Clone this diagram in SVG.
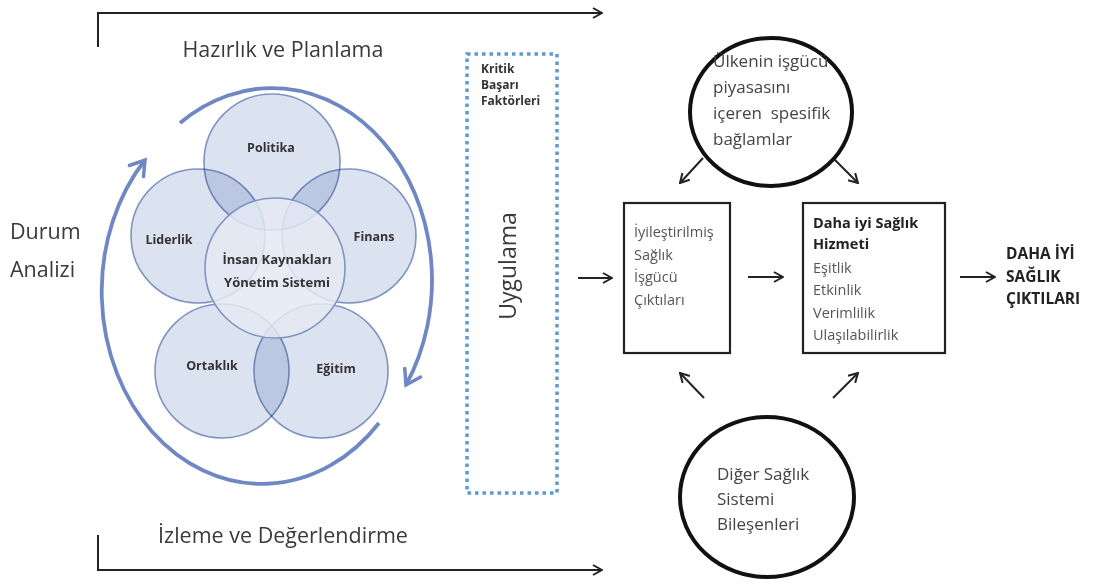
<svg xmlns="http://www.w3.org/2000/svg" width="1098" height="586" viewBox="0 0 1098 586">
<defs>
<marker id="ah" viewBox="0 0 12 12" refX="11" refY="6" markerWidth="12" markerHeight="12" markerUnits="userSpaceOnUse" orient="auto">
<path d="M2,1 L11,6 L2,11" fill="none" stroke="#222" stroke-width="2"/>
</marker>
<marker id="bh" viewBox="0 0 22 22" refX="19" refY="11" markerWidth="22" markerHeight="22" markerUnits="userSpaceOnUse" orient="auto">
<path d="M5,2 L19,11 L5,20" fill="none" stroke="#6f88c3" stroke-width="3.5" stroke-linecap="round"/>
</marker>
<style>
.t{font-family:"Open Sans","Noto Sans",sans-serif;fill:#3a3a3a}
.big{font-size:21.5px}
.vl{font-size:12.5px;font-weight:bold;fill:#333;text-anchor:middle}
.vc{font-size:13px;font-weight:bold;fill:#333;text-anchor:middle}
.bx{font-size:14.5px;fill:#555}
.bb{font-size:14.5px;font-weight:bold;fill:#222}
.ob{font-size:15.5px;font-weight:bold;fill:#222}
.ct{font-size:17px;fill:#444}
.kb{font-size:12px;font-weight:bold;fill:#333}
.oc{fill:#dbe2f0;stroke:#8094c0;stroke-width:1.6;mix-blend-mode:multiply}
.cc{fill:#e4e9f3;fill-opacity:0.85;stroke:#8094c0;stroke-width:1.6}
.ln{stroke:#222;stroke-width:2;fill:none}
.bx2{fill:#fff;stroke:#222;stroke-width:2.2}
.cir{fill:#fff;stroke:#111;stroke-width:4}
</style>
</defs>
<rect width="1098" height="586" fill="#fff"/>

<g id="connectors">
<path class="ln" d="M98,47 L98,13 L602,13" marker-end="url(#ah)"/>
<path class="ln" d="M98,535 L98,570 L602,570" marker-end="url(#ah)"/>
<path d="M180,123 A160 192 0 0 1 406,385" fill="none" stroke="#6f88c3" stroke-width="3.8" marker-end="url(#bh)"/>
<path d="M379,423 A160 192 0 0 1 145,160" fill="none" stroke="#6f88c3" stroke-width="3.8" marker-end="url(#bh)"/>
<line class="ln" x1="578" y1="278" x2="612" y2="278" marker-end="url(#ah)"/>
<line class="ln" x1="748" y1="277" x2="783" y2="277" marker-end="url(#ah)"/>
<line class="ln" x1="960" y1="277" x2="995" y2="277" marker-end="url(#ah)"/>
<line class="ln" x1="703" y1="158" x2="680" y2="183" marker-end="url(#ah)"/>
<line class="ln" x1="833" y1="158" x2="858" y2="183" marker-end="url(#ah)"/>
<line class="ln" x1="704" y1="398" x2="680" y2="373" marker-end="url(#ah)"/>
<line class="ln" x1="833" y1="398" x2="858" y2="373" marker-end="url(#ah)"/>
</g>

<g id="labels-left">
<text class="t big" x="283" y="57" text-anchor="middle" font-size="22">Hazırlık ve Planlama</text>
<text class="t big" x="10" y="239">Durum</text>
<text class="t big" x="10" y="277">Analizi</text>
<text class="t big" x="283" y="543" text-anchor="middle">İzleme ve Değerlendirme</text>
</g>

<g id="venn" style="isolation:isolate">
<circle class="oc" cx="272" cy="162" r="68"/>
<circle class="oc" cx="198" cy="236" r="67"/>
<circle class="oc" cx="349" cy="236" r="67"/>
<circle class="oc" cx="222" cy="371" r="67"/>
<circle class="oc" cx="321" cy="371" r="67"/>
<circle class="cc" cx="275" cy="268" r="70"/>
<text class="t vl" x="271" y="152">Politika</text>
<text class="t vl" x="169" y="244">Liderlik</text>
<text class="t vl" x="374" y="241">Finans</text>
<text class="t vc" x="277" y="264">İnsan Kaynakları</text>
<text class="t vc" x="277" y="287">Yönetim Sistemi</text>
<text class="t vl" x="212" y="370">Ortaklık</text>
<text class="t vl" x="336" y="373">Eğitim</text>
</g>

<g id="uygulama">
<rect x="467" y="54" width="90" height="439" fill="none" stroke="#5b9bd5" stroke-width="3.5" stroke-dasharray="3.5 4"/>
<text class="t kb" x="481" y="73">Kritik</text>
<text class="t kb" x="481" y="89">Başarı</text>
<text class="t kb" x="481" y="105">Faktörleri</text>
<text class="t" x="0" y="0" font-size="23" fill="#444" text-anchor="middle" transform="translate(516,266) rotate(-90)">Uygulama</text>
</g>

<g id="box1">
<rect class="bx2" x="624" y="203" width="106" height="150"/>
<text class="t bx" x="634" y="237">İyileştirilmiş</text>
<text class="t bx" x="634" y="260">Sağlık</text>
<text class="t bx" x="634" y="282">İşgücü</text>
<text class="t bx" x="634" y="305">Çıktıları</text>
</g>

<g id="box2">
<rect class="bx2" x="803" y="203" width="142" height="150"/>
<text class="t bb" x="813" y="228">Daha iyi Sağlık</text>
<text class="t bb" x="813" y="249">Hizmeti</text>
<text class="t bx" x="813" y="273">Eşitlik</text>
<text class="t bx" x="813" y="295">Etkinlik</text>
<text class="t bx" x="813" y="318">Verimlilik</text>
<text class="t bx" x="813" y="340">Ulaşılabilirlik</text>
</g>

<g id="outcome">
<text class="t ob" x="1006" y="259">DAHA İYİ</text>
<text class="t ob" x="1006" y="282">SAĞLIK</text>
<text class="t ob" x="1006" y="304">ÇIKTILARI</text>
</g>

<g id="circle-top">
<ellipse class="cir" cx="771" cy="112" rx="81" ry="74"/>
<text class="t ct" x="713" y="67">Ülkenin işgücü</text>
<text class="t ct" x="713" y="93">piyasasını</text>
<text class="t ct" x="713" y="119" xml:space="preserve">içeren  spesifik</text>
<text class="t ct" x="713" y="145">bağlamlar</text>
</g>

<g id="circle-bottom">
<ellipse class="cir" cx="767" cy="497" rx="87" ry="80"/>
<text class="t ct" x="717" y="480">Diğer Sağlık</text>
<text class="t ct" x="717" y="505">Sistemi</text>
<text class="t ct" x="717" y="530">Bileşenleri</text>
</g>
</svg>
